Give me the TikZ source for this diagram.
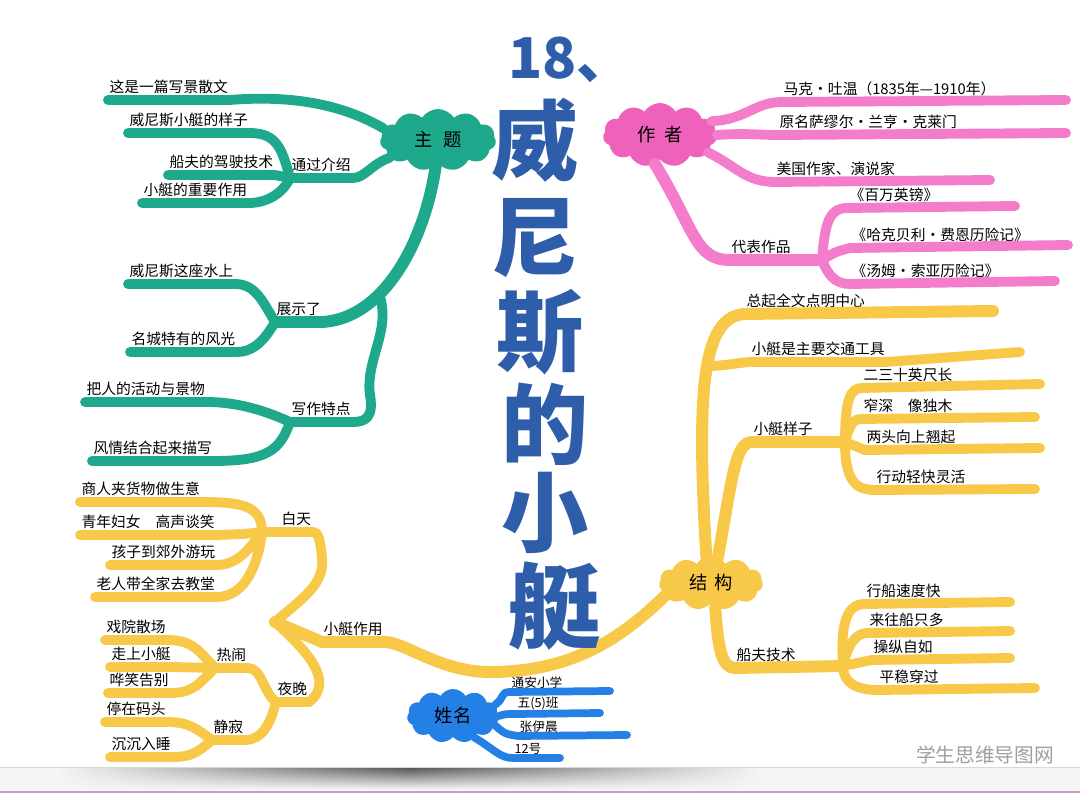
\documentclass[tikz,border=0pt]{standalone}
\usepackage{fontspec}
\setmainfont{Noto Sans CJK SC}
\usepackage{tikz}
\usetikzlibrary{shapes.symbols,fadings}

\definecolor{mgreen}{RGB}{30,168,140}
\definecolor{mpink}{RGB}{243,125,203}
\definecolor{mpinkc}{RGB}{238,98,188}
\definecolor{myellow}{RGB}{248,200,72}
\definecolor{mblue}{RGB}{36,128,228}
\definecolor{mtitle}{RGB}{46,94,170}

\tikzfading[name=fade sides, left color=transparent!100, right color=transparent!100, middle color=transparent!0]

\begin{document}
\begin{tikzpicture}[x=0.025cm, y=0.025cm,
  lbl/.style={anchor=south west, inner xsep=1pt, inner ysep=4pt, font=\fontsize{10.5}{12}\selectfont},
  bubble/.style={cloud, cloud puffs=11, cloud puff arc=115, cloud ignores aspect, inner sep=0pt, font=\fontsize{13}{15}\selectfont},
  gbr/.style={draw=mgreen, line width=7pt, line cap=round},
  pbr/.style={draw=mpink, line width=7pt, line cap=round},
  ybr/.style={draw=myellow, line width=7pt, line cap=round},
  bbr/.style={draw=mblue, line width=5.5pt, line cap=round},
  trunk/.style={line width=8.5pt},
  bigchar/.style={text=mtitle, inner sep=0pt, font=\fontsize{62}{62}\selectfont\bfseries}]
\fill[white] (0,0) rectangle (1080,-793);
\useasboundingbox (0,0) rectangle (1080,-793);

% paper edge
\fill[gray!8] (0,-767) rectangle (1080,-793);
\shade[top color=black!65, bottom color=gray!8, path fading=fade sides] (60,-768) rectangle (760,-789);
\draw[gray!30] (0,-767) -- (1080,-767);
\draw[violet!40, line width=1pt] (0,-792) -- (1080,-792);

% clouds
\node[bubble, fill=mgreen, minimum width=2.9cm, minimum height=1.55cm] (zhuti) at (438,-140) {主\hspace{0.6em}题};
\node[bubble, fill=mpinkc, minimum width=2.85cm, minimum height=1.6cm] (zuozhe) at (660,-135) {作\hspace{0.5em}者};
\node[bubble, fill=myellow, minimum width=2.6cm, minimum height=1.35cm] (jiegou) at (711,-583) {结\hspace{0.4em}构};
\node[bubble, fill=mblue, minimum width=2.3cm, minimum height=1.35cm] (xingming) at (453,-716) {姓名};

% 主题
\node[lbl] (g1) at (108,-100) {这是一篇写景散文};
\node[lbl] (tg) at (290,-178) {通过介绍};
\node[lbl] (g2) at (128,-133) {威尼斯小艇的样子};
\node[lbl] (g3) at (168,-175) {船夫的驾驶技术};
\node[lbl] (g4) at (142,-203) {小艇的重要作用};
\node[lbl] (zs) at (275,-322) {展示了};
\node[lbl] (g5) at (128,-284) {威尼斯这座水上};
\node[lbl] (g6) at (130,-352) {名城特有的风光};
\node[lbl] (xz) at (290,-422) {写作特点};
\node[lbl] (g7) at (85,-402) {把人的活动与景物};
\node[lbl] (g8) at (92,-461) {风情结合起来描写};
\coordinate (zsk) at (379,-294);

\draw[gbr] (zhuti.168) .. controls (335,-100) and (280,-96) .. (g1.south east) -- (g1.south west);
\draw[gbr] (zhuti.200) .. controls (370,-165) and (365,-178) .. (tg.south east) -- (tg.south west);
\draw[gbr] (tg.south west) .. controls (282,-150) and (278,-133) .. (g2.south east) -- (g2.south west);
\draw[gbr] (tg.south west) -- (g3.south east) -- (g3.south west);
\draw[gbr] (tg.south west) .. controls (282,-195) and (265,-203) .. (g4.south east) -- (g4.south west);
\draw[gbr, trunk] (zhuti.265) .. controls (425,-240) and (385,-318) .. (zs.south east) -- (zs.south west);
\draw[gbr] (zs.south west) .. controls (262,-300) and (255,-284) .. (g5.south east) -- (g5.south west);
\draw[gbr] (zs.south west) .. controls (262,-345) and (250,-352) .. (g6.south east) -- (g6.south west);
\draw[gbr] (zsk) .. controls (392,-330) and (365,-360) .. (370,-395) .. controls (374,-418) and (365,-422) .. (xz.south east) -- (xz.south west);
\draw[gbr] (xz.south west) .. controls (268,-412) and (240,-402) .. (g7.south east) -- (g7.south west);
\draw[gbr] (xz.south west) .. controls (280,-450) and (268,-461) .. (g8.south east) -- (g8.south west);

% 作者
\node[lbl] (p1) at (782,-102) {马克·吐温（1835年—1910年）};
\node[lbl] (p2) at (778,-135) {原名萨缪尔·兰亨·克莱门};
\node[lbl] (p3) at (775,-182) {美国作家、演说家};
\node[lbl] (db) at (730,-260) {代表作品};
\node[lbl] (p4) at (848,-208) {《百万英镑》};
\node[lbl] (p5) at (850,-248) {《哈克贝利·费恩历险记》};
\node[lbl] (p6) at (850,-284) {《汤姆·索亚历险记》};
\coordinate (p1e) at (1066,-100);
\coordinate (p2e) at (1066,-133);
\coordinate (p3e) at (990,-180);
\coordinate (dbj) at (822,-260);
\coordinate (p4e) at (1015,-206);
\coordinate (p5e) at (1068,-245);
\coordinate (p6e) at (1055,-281);

\draw[pbr] (zuozhe.15) .. controls (745,-120) and (755,-102) .. (p1.south west) -- (p1e);
\draw[pbr] (zuozhe.0) .. controls (745,-133) and (760,-135) .. (p2.south west) -- (p2e);
\draw[pbr] (zuozhe.-20) .. controls (735,-165) and (745,-182) .. (p3.south west) -- (p3e);
\draw[pbr, trunk] (zuozhe.-100) .. controls (695,-230) and (695,-260) .. (db.south west) -- (dbj);
\draw[pbr] (dbj) .. controls (825,-220) and (830,-208) .. (p4.south west) -- (p4e);
\draw[pbr] (dbj) .. controls (835,-252) .. (p5.south west) -- (p5e);
\draw[pbr] (dbj) .. controls (828,-275) and (835,-284) .. (p6.south west) -- (p6e);

% 结构
\node[lbl] (y1) at (745,-314) {总起全文点明中心};
\node[lbl] (y2) at (750,-362) {小艇是主要交通工具};
\node[lbl] (yz) at (752,-442) {小艇样子};
\node[lbl] (y3) at (862,-388) {二三十英尺长};
\node[lbl] (y4) at (862,-419) {窄深\quad 像独木};
\node[lbl] (y5) at (865,-450) {两头向上翘起};
\node[lbl] (y6) at (875,-490) {行动轻快灵活};
\node[lbl] (cf) at (735,-668) {船夫技术};
\node[lbl] (y7) at (865,-604) {行船速度快};
\node[lbl] (y8) at (868,-633) {来往船只多};
\node[lbl] (y9) at (872,-660) {操纵自如};
\node[lbl] (y10) at (878,-690) {平稳穿过};
\coordinate (nk) at (707,-366);
\coordinate (yzj) at (845,-442);
\coordinate (cfj) at (843,-666);
\coordinate (y1e) at (993,-311);
\coordinate (y2e) at (1020,-352);
\coordinate (y3e) at (1040,-384);
\coordinate (y4e) at (1035,-417);
\coordinate (y5e) at (1040,-448);
\coordinate (y6e) at (1035,-489);
\coordinate (y7e) at (1010,-602);
\coordinate (y8e) at (1010,-631);
\coordinate (y9e) at (1010,-658);
\coordinate (y10e) at (1035,-688);

\draw[ybr, trunk] (jiegou.100) .. controls (697,-400) and (700,-316) .. (y1.south west) -- (y1e);
\draw[ybr] (nk) .. controls (725,-366) and (735,-363) .. (y2.south west) -- (y2.south east) -- (y2e);
\draw[ybr, trunk] (jiegou.75) .. controls (732,-480) and (735,-442) .. (yz.south west) -- (yzj);
\draw[ybr] (yzj) .. controls (845,-400) and (850,-388) .. (y3.south west) -- (y3e);
\draw[ybr] (yzj) .. controls (850,-425) and (852,-419) .. (y4.south west) -- (y4e);
\draw[ybr] (yzj) -- (y5.south west) -- (y5e);
\draw[ybr] (yzj) .. controls (845,-480) and (855,-490) .. (y6.south west) -- (y6e);
\draw[ybr, trunk] (jiegou.-80) .. controls (718,-650) and (722,-668) .. (cf.south west) -- (cfj);
\draw[ybr] (cfj) .. controls (840,-620) and (848,-604) .. (y7.south west) -- (y7e);
\draw[ybr] (cfj) .. controls (848,-645) and (855,-633) .. (y8.south west) -- (y8e);
\draw[ybr] (cfj) -- (y9.south west) -- (y9e);
\draw[ybr] (cfj) .. controls (843,-682) and (855,-690) .. (y10.south west) -- (y10e);

% 小艇作用
\node[lbl] (zy) at (322,-642) {小艇作用};
\coordinate (zyj) at (275,-622);
\draw[ybr, trunk] (jiegou.195) .. controls (620,-640) and (570,-672) .. (490,-672) .. controls (440,-672) and (405,-642) .. (zy.south east) -- (zy.south west) -- (zyj);

\node[lbl] (bt) at (280,-532) {白天};
\coordinate (btj) at (262,-532);
\node[lbl] (d1) at (80,-502) {商人夹货物做生意};
\node[lbl] (d2) at (80,-535) {青年妇女\quad 高声谈笑};
\node[lbl] (d3) at (110,-565) {孩子到郊外游玩};
\node[lbl] (d4) at (95,-597) {老人带全家去教堂};
\draw[ybr] (zyj) .. controls (300,-600) and (325,-585) .. (322,-558) .. controls (320,-538) and (318,-532) .. (bt.south east) -- (bt.south west) -- (btj);
\draw[ybr] (btj) .. controls (262,-505) and (240,-502) .. (d1.south east) -- (d1.south west);
\draw[ybr] (btj) .. controls (245,-534) .. (d2.south east) -- (d2.south west);
\draw[ybr] (btj) .. controls (250,-548) and (238,-565) .. (d3.south east) -- (d3.south west);
\draw[ybr] (btj) .. controls (258,-565) and (245,-597) .. (d4.south east) -- (d4.south west);

\node[lbl] (yw) at (276,-702) {夜晚};
\draw[ybr] (zyj) .. controls (300,-645) and (338,-680) .. (yw.south east) -- (yw.south west);

\node[lbl] (rn) at (215,-668) {热闹};
\node[lbl] (e1) at (105,-640) {戏院散场};
\node[lbl] (e2) at (110,-667) {走上小艇};
\node[lbl] (e3) at (108,-693) {哗笑告别};
\draw[ybr] (yw.south west) .. controls (263,-692) and (262,-668) .. (rn.south east) -- (rn.south west);
\draw[ybr] (rn.south west) .. controls (198,-650) and (192,-640) .. (e1.south east) -- (e1.south west);
\draw[ybr] (rn.south west) -- (e2.south east) -- (e2.south west);
\draw[ybr] (rn.south west) .. controls (198,-685) and (192,-693) .. (e3.south east) -- (e3.south west);

\node[lbl] (jj) at (212,-740) {静寂};
\node[lbl] (f1) at (105,-722) {停在码头};
\node[lbl] (f2) at (110,-757) {沉沉入睡};
\draw[ybr] (yw.south west) .. controls (270,-725) and (262,-740) .. (jj.south east) -- (jj.south west);
\draw[ybr] (jj.south west) .. controls (198,-730) and (190,-722) .. (f1.south east) -- (f1.south west);
\draw[ybr] (jj.south west) .. controls (198,-752) and (192,-757) .. (f2.south east) -- (f2.south west);

% 姓名
\node[lbl, inner ysep=2.5pt, font=\fontsize{9}{10}\selectfont] (h1) at (510,-692) {通安小学};
\node[lbl, inner ysep=2.5pt, font=\fontsize{9}{10}\selectfont] (h2) at (516,-714) {五(5)班};
\node[lbl, inner ysep=2.5pt, font=\fontsize{9}{10}\selectfont] (h3) at (518,-736) {张伊晨};
\node[lbl, inner ysep=2.5pt, font=\fontsize{9}{10}\selectfont] (h4) at (513,-758) {12号};
\coordinate (h1e) at (610,-691);
\coordinate (h2e) at (600,-713);
\coordinate (h3e) at (627,-735);
\coordinate (h4e) at (560,-758);
\draw[bbr] (xingming.15) .. controls (505,-698) and (500,-692) .. (h1.south west) -- (h1e);
\draw[bbr] (xingming.0) .. controls (505,-714) .. (h2.south west) -- (h2e);
\draw[bbr] (xingming.-12) .. controls (505,-734) .. (h3.south west) -- (h3e);
\draw[bbr] (xingming.-45) .. controls (495,-750) and (500,-758) .. (h4.south west) -- (h4e);

% title
\node[bigchar, anchor=west, font=\fontsize{40}{40}\selectfont\bfseries] (n18) at (508,-60) {18、};
\foreach \ch/\xx/\yy/\nm in {威/535/140/wei, 尼/535/238/ni, 斯/540/332/si, 的/545/424/de, 小/545/513/xiao}
  \node[bigchar] (\nm) at (\xx,-\yy) {\ch};
\node[bigchar, font=\fontsize{66}{66}\selectfont\bfseries] (ting) at (555,-606) {艇};

\node[text=gray!75, font=\fontsize{14}{16}\selectfont] (wm) at (985,-755) {学生思维导图网};
\end{tikzpicture}
\end{document}
